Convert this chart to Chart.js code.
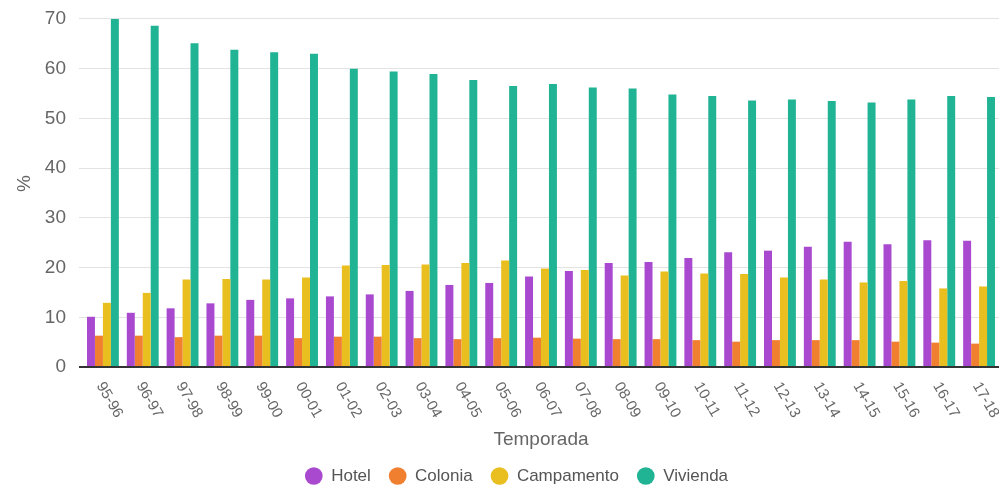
<!DOCTYPE html>
<html>
<head>
<meta charset="utf-8">
<script src="https://cdn.jsdelivr.net/npm/chart.js@4.4.1/dist/chart.umd.min.js"></script>
<style>
  html, body { margin: 0; padding: 0; background: #fff; overflow: hidden; }
  #wrap { width: 1033px; height: 487px; }
</style>
</head>
<body>
<div id="wrap"><canvas id="c" width="1033" height="487"></canvas></div>
<script>
// Temporadas (eje X)
const temporadas = ['95-96','96-97','97-98','98-99','99-00','00-01','01-02','02-03','03-04','04-05','05-06',
                    '06-07','07-08','08-09','09-10','10-11','11-12','12-13','13-14','14-15','15-16','16-17','17-18'];

// Porcentaje por tipo de alojamiento
const hotel       = [10.1,10.9,11.8,12.8,13.5,13.8,14.2,14.6,15.3,16.5,16.9,18.2,19.3,20.9,21.1,21.9,23.1,23.4,24.2,25.2,24.7,25.5,25.4];
const colonia     = [6.3,6.3,6.0,6.3,6.3,5.8,6.1,6.1,5.8,5.6,5.8,5.9,5.7,5.6,5.6,5.4,5.1,5.4,5.4,5.4,5.1,4.9,4.7];
const campamento  = [12.9,14.9,17.6,17.7,17.6,18.0,20.4,20.5,20.6,20.9,21.4,19.8,19.5,18.4,19.2,18.8,18.7,18.0,17.6,17.0,17.3,15.8,16.2];
const vivienda    = [70.0,68.6,65.1,63.8,63.3,63.0,60.0,59.4,58.9,57.7,56.5,56.9,56.2,56.0,54.8,54.5,53.6,53.8,53.5,53.2,53.8,54.5,54.3];

const seriesNames = ['Hotel','Colonia','Campamento','Vivienda'];
const yMax = 73.8;
const yStep = 10;

const FONT = '"Liberation Sans", Arial, sans-serif';
Chart.defaults.font.family = FONT;

// Etiquetas de temporada inclinadas hacia abajo a la derecha
const slantedLabels = {
  id: 'slantedLabels',
  afterDraw(chart) {
    const xs = chart.scales.x;
    const ctx = chart.ctx;
    ctx.save();
    ctx.font = '15px ' + FONT;
    ctx.fillStyle = '#666';
    ctx.textAlign = 'left';
    ctx.textBaseline = 'middle';
    temporadas.forEach((t, i) => {
      const x = xs.getPixelForValue(i);
      ctx.save();
      ctx.translate(x - 3, xs.top + 16.5);
      ctx.rotate(60 * Math.PI / 180);
      ctx.fillText(t, 0, 0);
      ctx.restore();
    });
    ctx.restore();
  }
};

const colors = ['#a849d0', '#f07f30', '#e8bf1f', '#20b394'];
const values = [hotel, colonia, campamento, vivienda];

new Chart(document.getElementById('c'), {
  type: 'bar',
  data: {
    labels: temporadas,
    datasets: seriesNames.map((name, k) => ({
      label: name,
      data: values[k],
      backgroundColor: colors[k],
      borderWidth: 0,
      barPercentage: 1,
      categoryPercentage: 0.8
    }))
  },
  options: {
    responsive: false,
    animation: false,
    layout: { padding: 0 },
    plugins: {
      legend: {
        position: 'bottom',
        maxHeight: 37.5,
        labels: {
          usePointStyle: true,
          pointStyle: 'circle',
          boxHeight: 12.5,
          pointStyleWidth: 17.7,
          padding: 18,
          color: '#555',
          font: { size: 17 }
        }
      },
      tooltip: { enabled: false }
    },
    scales: {
      x: {
        grid: { display: false },
        border: { display: false },
        ticks: { display: false },
        title: { display: true, text: 'Temporada', color: '#666', font: { size: 19, lineHeight: 1 }, padding: 0 },
        afterFit(s) { s.height = 82.5; }
      },
      y: {
        min: 0,
        max: yMax,
        ticks: { stepSize: yStep, includeBounds: false, padding: 13, color: '#666', font: { size: 19 } },
        grid: {
          color: c => (c.tick && c.tick.value === 0) ? '#333' : '#e3e3e3',
          lineWidth: c => (c.tick && c.tick.value === 0) ? 2 : 1,
          tickLength: 4
        },
        border: { display: false },
        title: { display: true, text: '%', color: '#666', font: { size: 19 }, padding: { top: 13, bottom: 0 } },
        afterFit(s) {
          s.width = 83;
          s.paddingTop = 0;
          s.paddingBottom = 0;
        }
      },
      spacer: {
        position: 'right',
        display: true,
        grid: { display: false },
        border: { display: false },
        ticks: { display: false },
        afterFit(s) { s.width = 34; }
      }
    }
  },
  plugins: [slantedLabels]
});
</script>
</body>
</html>
